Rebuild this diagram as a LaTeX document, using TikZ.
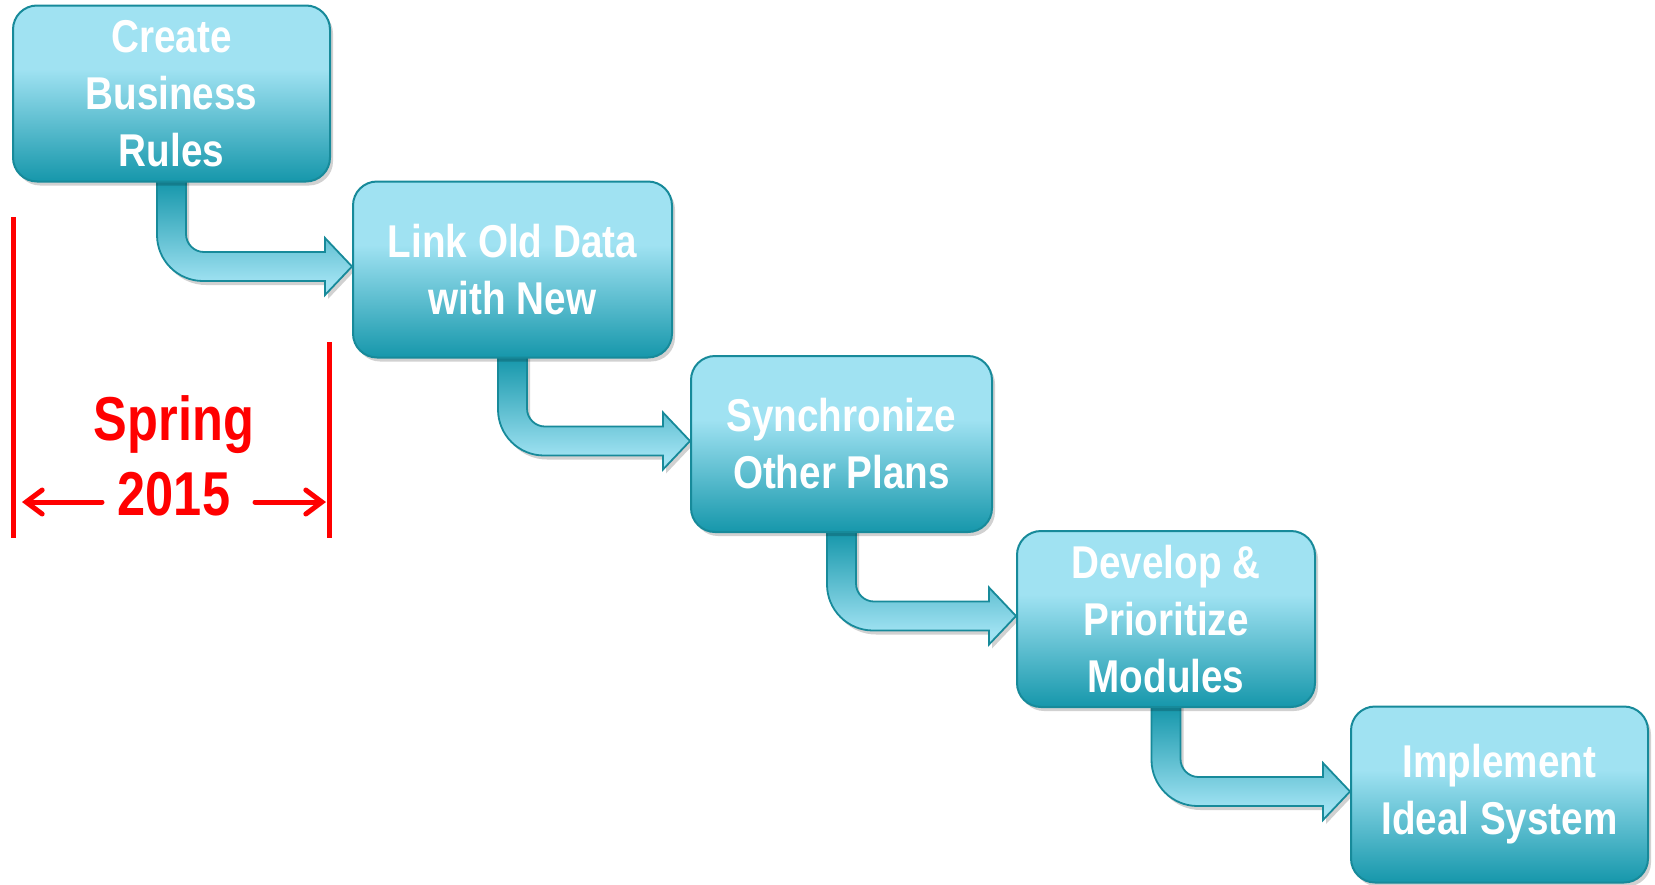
\documentclass[tikz,border=0pt]{standalone}
\usepackage{fontspec}
\newfontfamily\boxfont[FakeStretch=0.84]{Liberation Sans}
\newfontfamily\redfont[FakeStretch=0.815]{Liberation Sans}
\usetikzlibrary{arrows.meta,shadows,backgrounds,calc}
\definecolor{boxlight}{HTML}{A0E2F2}
\definecolor{boxdark}{HTML}{1697AB}
\definecolor{boxedge}{HTML}{178A9A}
\definecolor{annred}{HTML}{FF0000}
\pgfdeclareverticalshading{boxsh}{100bp}{color(0bp)=(boxdark); color(25bp)=(boxdark); color(57bp)=(boxlight); color(100bp)=(boxlight)}
\pgfdeclareverticalshading{arrowsh}{100bp}{color(0bp)=(boxlight); color(30bp)=(boxlight); color(72bp)=(boxdark); color(100bp)=(boxdark)}
\tikzset{
 softshadow/.style={drop shadow={shadow xshift=1.5pt, shadow yshift=-2pt, opacity=0.18, fill=black}},
 stepbox/.style={shade, shading=boxsh, draw=boxedge, line width=1pt, rounded corners=12pt,
   minimum height=88pt, text=white, align=center, inner sep=0pt,
   font=\boxfont\bfseries\fontsize{23}{28.5}\selectfont, softshadow},
 bentarrow/.style={shade, shading=arrowsh, draw=boxedge, line width=0.9pt, softshadow},
 redline/.style={draw=annred, line width=2.5pt},
 redarrow/.style={draw=annred, line width=2.5pt, line cap=round,
   -{Straight Barb[length=8pt,width=12pt,line cap=round]}},
 redtext/.style={text=annred, font=\redfont\bfseries\fontsize{31}{36}\selectfont, inner sep=0pt},
}
\newcommand\stepconnector[2]{%
 \path[bentarrow] let \p1=(#1.south), \p2=(#2.west) in
  (\x1-7.25pt,\y1+4pt) -- (\x1-7.25pt,\y2+1.5pt-7.25pt+23pt)
  arc[start angle=180,end angle=270,radius=23pt]
  -- (\x2-13.5pt,\y2+1.5pt-7.25pt) -- (\x2-13.5pt,\y2+1.5pt-14.25pt)
  -- (\x2,\y2+1.5pt) -- (\x2-13.5pt,\y2+1.5pt+14.25pt)
  -- (\x2-13.5pt,\y2+1.5pt+7.25pt) -- (\x1+16.25pt,\y2+1.5pt+7.25pt)
  arc[start angle=270,end angle=180,radius=9pt]
  -- (\x1+7.25pt,\y1+4pt) -- cycle;}
\begin{document}
\begin{tikzpicture}[x=0.5pt,y=-0.5pt]
\useasboundingbox (0,0) rectangle (1655,884);

\node[stepbox, minimum width=158.5pt] (b1) at (171.5,93.5) {Create\\Business\\Rules};
\node[stepbox, minimum width=159.5pt] (b2) at (512.5,269.5) {Link Old Data\\with New};
\node[stepbox, minimum width=150.5pt] (b3) at (841.5,444) {Synchronize\\Other Plans};
\node[stepbox, minimum width=149pt] (b4) at (1166,619) {Develop \&\\Prioritize\\Modules};
\node[stepbox, minimum width=148.5pt] (b5) at (1499.5,794.5) {Implement\\Ideal System};

\begin{pgfonlayer}{background}
\fill[white] (0,0) rectangle (1655,884);
\stepconnector{b1}{b2}
\stepconnector{b2}{b3}
\stepconnector{b3}{b4}
\stepconnector{b4}{b5}
\end{pgfonlayer}

\coordinate (ltop) at (13,217);
\coordinate (lbot) at (13,538);
\coordinate (rtop) at (329,342);
\coordinate (rbot) at (329,538);
\draw[redline] (ltop) -- (lbot);
\draw[redline] (rtop) -- (rbot);
\node[redtext, anchor=base] (spring) at (174,440) {Spring};
\node[redtext, anchor=base] (year) at (174,515) {2015};
\coordinate (lstart) at (102,502);
\coordinate (lend) at (22,502);
\coordinate (rstart) at (255,502);
\coordinate (rend) at (326,502);
\draw[redarrow] (lstart) -- (lend);
\draw[redarrow] (rstart) -- (rend);
\end{tikzpicture}
\end{document}
